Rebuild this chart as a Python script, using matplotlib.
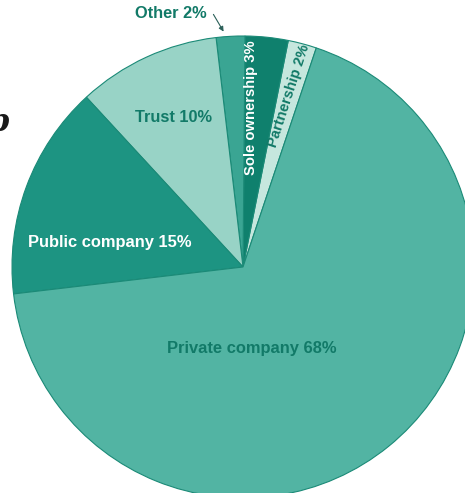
import matplotlib.pyplot as plt

# ownership shares, counter-clockwise from the partnership slice
labels = ['Partnership', 'Sole ownership', 'Other', 'Trust', 'Public company', 'Private company']
shares = [2, 3, 2, 10, 15, 68]
colors = ['#c6e7de', '#0f806d', '#3aa593', '#98d3c6', '#1d9482', '#52b4a3']

dark = '#127a68'
W, H = 465, 493

fig = plt.figure(figsize=(W / 100, H / 100), dpi=100)
ax = fig.add_axes([0, 0, 1, 1])

cx, cy, r = 243, H - 267, 231
ax.pie(shares, colors=colors, startangle=71.5, counterclock=True,
       center=(cx, cy), radius=r, frame=True,
       wedgeprops=dict(edgecolor='#1b8a77', linewidth=0.8))
ax.set_xlim(0, W)
ax.set_ylim(0, H)
ax.set_aspect('equal')
ax.axis('off')

font = dict(family=['Liberation Sans', 'DejaVu Sans'], fontweight='bold',
            ha='center', va='center')

def y(v):
    return H - v

ax.text(171, y(14), f'{labels[2]} {shares[2]}%', color=dark, fontsize=11.8, **font)
ax.annotate('', xy=(225, y(34)), xytext=(212, y(12)),
            arrowprops=dict(arrowstyle='-|>', color='#2a5f58', lw=0.8,
                            mutation_scale=7))
ax.text(173, y(117), f'{labels[3]} {shares[3]}%', color=dark, fontsize=11.8, **font)
ax.text(110, y(243), f'{labels[4]} {shares[4]}%', color='white', fontsize=11.9, **font)
ax.text(252, y(348), f'{labels[5]} {shares[5]}%', color=dark, fontsize=11.9, **font)
ax.text(251, y(108), f'{labels[1]} {shares[1]}%', color='white', rotation=90,
        fontsize=10.6, **font)
ax.text(289, y(96), f'{labels[0]} {shares[0]}%', color=dark, rotation=72,
        fontsize=10.6, **font)

# letter from the neighbouring heading, clipped by the left margin
ax.text(9, y(122), 'p', ha='right', va='center', fontsize=22, fontstyle='italic',
        fontweight='bold', family='DejaVu Serif', color='#1a1a1a')

fig.savefig('out.png', dpi=100)
